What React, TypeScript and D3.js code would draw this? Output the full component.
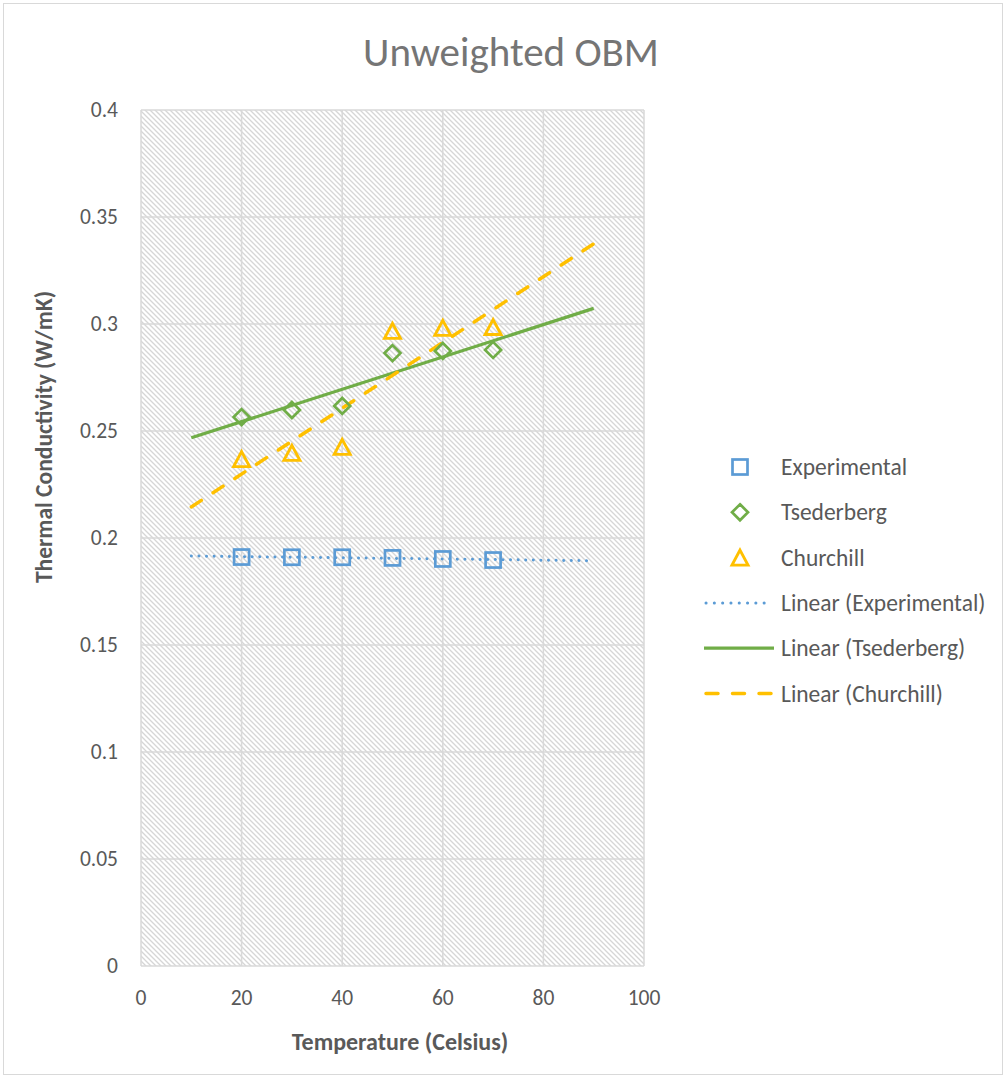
import React from "react";
import * as d3 from "d3";

const temperatures = [20, 30, 40, 50, 60, 70];
const experimental = [0.1911, 0.191, 0.191, 0.1907, 0.1902, 0.1897];
const tsederberg = [0.2565, 0.2598, 0.2617, 0.2864, 0.2874, 0.2879];
const churchill = [0.2364, 0.2393, 0.2421, 0.2963, 0.2977, 0.2981];
const xTicks = [0, 20, 40, 60, 80, 100];
const yTicks = [0, 0.05, 0.1, 0.15, 0.2, 0.25, 0.3, 0.35, 0.4];
const trendRange = [10, 90];

const W = 1006;
const H = 1078;
const FONT = "Carlito, Lato, 'Open Sans', sans-serif";

const BLUE = "#5b9bd5";
const GREEN = "#70ad47";
const GOLD = "#ffc000";
const TEXT = "#595959";

// least-squares fit, returned as a function of x
function linearFit(xs: number[], ys: number[]) {
  const mx = d3.mean(xs)!;
  const my = d3.mean(ys)!;
  const sxy = d3.sum(xs, (x, i) => (x - mx) * (ys[i] - my));
  const sxx = d3.sum(xs, (x) => (x - mx) * (x - mx));
  const b = sxy / sxx;
  return (x: number) => my + b * (x - mx);
}

export default function App() {
  const x = d3.scaleLinear().domain([0, 100]).range([141, 644]);
  const y = d3.scaleLinear().domain([0, 0.4]).range([966, 110]);

  const trend = (vals: number[]) => {
    const f = linearFit(temperatures, vals);
    return d3
      .line<number>()
      .x((d) => x(d))
      .y((d) => y(f(d)))(trendRange);
  };

  const square = (cx: number, cy: number, key: string) => (
    <rect key={key} x={cx - 7.5} y={cy - 7.5} width={15} height={15} fill="none" stroke={BLUE} strokeWidth={2.7} />
  );
  const diamond = (cx: number, cy: number, key: string) => (
    <path
      key={key}
      d={`M${cx},${cy - 8}L${cx + 8},${cy}L${cx},${cy + 8}L${cx - 8},${cy}Z`}
      fill="none"
      stroke={GREEN}
      strokeWidth={2.7}
    />
  );
  const triangle = (cx: number, cy: number, key: string) => (
    <path
      key={key}
      d={`M${cx},${cy - 8.5}L${cx + 8},${cy + 6.5}L${cx - 8},${cy + 6.5}Z`}
      fill="none"
      stroke={GOLD}
      strokeWidth={2.9}
    />
  );

  const legendRows = [
    { label: "Experimental", kind: "square" },
    { label: "Tsederberg", kind: "diamond" },
    { label: "Churchill", kind: "triangle" },
    { label: "Linear (Experimental)", kind: "dot" },
    { label: "Linear (Tsederberg)", kind: "solid" },
    { label: "Linear (Churchill)", kind: "dash" },
  ];

  const [x0, x1] = x.range();
  const [y0, y1] = y.range();

  return (
    <svg
      width={W}
      height={H}
      style={{ position: "absolute", left: 0, top: 0, background: "#fff" }}
      fontFamily={FONT}
    >
      <defs>
        <pattern id="hatch" width={5} height={5} patternUnits="userSpaceOnUse">
          <rect width={5} height={5} fill="#ffffff" />
          <path d="M-1,-1L6,6M-1,4L1,6M4,-1L6,1" stroke="#d6d6d6" strokeWidth={1.3} />
        </pattern>
      </defs>

      <rect x={3.5} y={3.5} width={999} height={1071} fill="#fff" stroke="#d9d9d9" strokeWidth={1} />

      <text x={511} y={66} textAnchor="middle" fontSize={41} fill="#757575" fontWeight={300}>
        Unweighted OBM
      </text>

      {/* plot background */}
      <rect x={x0} y={y1} width={x1 - x0} height={y0 - y1} fill="url(#hatch)" />

      {/* gridlines */}
      {yTicks.map((t) => (
        <line key={"gy" + t} x1={x0} x2={x1} y1={y(t)} y2={y(t)} stroke="#d9d9d9" strokeWidth={1.5} />
      ))}
      {xTicks.map((t) => (
        <line key={"gx" + t} x1={x(t)} x2={x(t)} y1={y1} y2={y0} stroke="#d9d9d9" strokeWidth={1.5} />
      ))}

      {/* tick labels */}
      {yTicks.map((t) => (
        <text key={"ly" + t} x={118} y={y(t) + 7} textAnchor="end" fontSize={21.5} fill={TEXT}>
          {d3.format("~g")(t)}
        </text>
      ))}
      {xTicks.map((t) => (
        <text key={"lx" + t} x={x(t)} y={1005} textAnchor="middle" fontSize={21.5} fill={TEXT}>
          {t}
        </text>
      ))}

      {/* axis titles */}
      <text x={400} y={1050} textAnchor="middle" fontSize={24} fontWeight={700} fill={TEXT}>
        Temperature (Celsius)
      </text>
      <text
        transform="translate(52,437) rotate(-90)"
        textAnchor="middle"
        fontSize={23.5}
        fontWeight={700}
        fill={TEXT}
      >
        Thermal Conductivity (W/mK)
      </text>

      {/* trend lines */}
      <path d={trend(experimental)!} fill="none" stroke={BLUE} strokeWidth={3} strokeDasharray="0.1 7.5" strokeLinecap="round" />
      <path d={trend(tsederberg)!} fill="none" stroke={GREEN} strokeWidth={3.2} />
      <path d={trend(churchill)!} fill="none" stroke={GOLD} strokeWidth={3.5} strokeDasharray="12 14" strokeLinecap="round" />

      {/* markers */}
      {temperatures.map((t, i) => square(x(t), y(experimental[i]), "e" + i))}
      {temperatures.map((t, i) => diamond(x(t), y(tsederberg[i]), "t" + i))}
      {temperatures.map((t, i) => triangle(x(t), y(churchill[i]), "c" + i))}

      {/* legend */}
      {legendRows.map((r, i) => {
        const cy = 467 + i * 45.3;
        let sym: React.ReactNode = null;
        if (r.kind === "square") sym = square(740, cy, "ls");
        if (r.kind === "diamond") sym = diamond(740, cy, "ld");
        if (r.kind === "triangle") sym = triangle(740, cy + 1, "lt");
        const lineProps = { x1: 706, x2: 772, y1: cy, y2: cy, fill: "none" };
        if (r.kind === "dot")
          sym = <line {...lineProps} stroke={BLUE} strokeWidth={3} strokeDasharray="0.1 8.2" strokeLinecap="round" />;
        if (r.kind === "solid") sym = <line {...lineProps} x1={704} x2={774} stroke={GREEN} strokeWidth={3.2} />;
        if (r.kind === "dash")
          sym = <line {...lineProps} stroke={GOLD} strokeWidth={3.5} strokeDasharray="12 14.5" strokeLinecap="round" />;
        return (
          <g key={"leg" + i}>
            {sym}
            <text x={781} y={cy + 8} fontSize={23.5} fill={TEXT}>
              {r.label}
            </text>
          </g>
        );
      })}
    </svg>
  );
}
